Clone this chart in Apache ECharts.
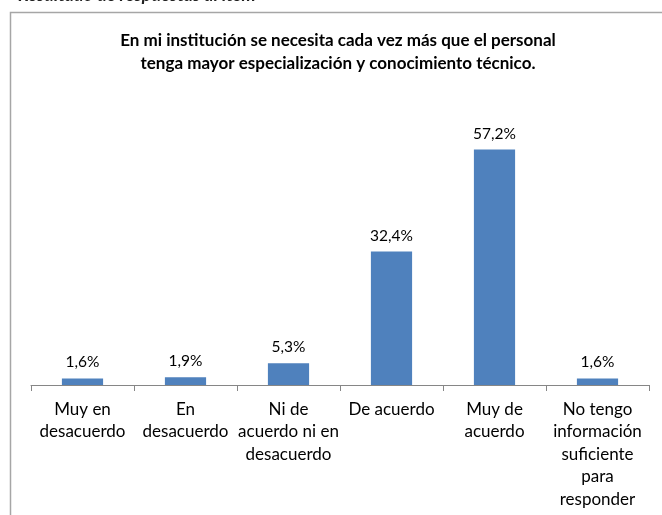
<!DOCTYPE html>
<html>
<head>
<meta charset="utf-8">
<script src="https://cdn.jsdelivr.net/npm/echarts@6/dist/echarts.min.js"></script>
<style>
html, body { margin: 0; padding: 0; background: #fff; }
#chart { width: 662px; height: 515px; }
</style>
</head>
<body>
<div id="chart"></div>
<script>
var categories = [
    'Muy en\ndesacuerdo',
    'En\ndesacuerdo',
    'Ni de\nacuerdo ni en\ndesacuerdo',
    'De acuerdo',
    'Muy de\nacuerdo',
    'No tengo\ninformación\nsuficiente\npara\nresponder'
];
var values = [1.6, 1.9, 5.3, 32.4, 57.2, 1.6];
var titleText = 'En mi institución se necesita cada vez más que el personal\ntenga mayor especialización y conocimiento técnico.';

var chart = echarts.init(document.getElementById('chart'));
var option = {
    animation: false,
    backgroundColor: '#fff',
    textStyle: {fontFamily: 'Lato, "Noto Sans", sans-serif'},
    title: {
        text: titleText,
        left: 333,
        top: 24,
        textAlign: 'center',
        textStyle: {
            fontFamily: 'Lato, "Noto Sans", sans-serif',
            fontSize: 17,
            fontWeight: 'bold',
            color: '#000',
            lineHeight: 23
        }
    },
    graphic: [
        {
            type: 'rect',
            shape: {x: 10.5, y: 12.5, width: 700, height: 600},
            style: {fill: 'none', stroke: '#a6a6a6', lineWidth: 1.5},
            silent: true
        },
        {
            type: 'text',
            left: 18,
            top: -14,
            style: {
                text: 'Resultado de respuestas al ítem',
                font: 'italic bold 18px Lato, sans-serif',
                fill: '#222'
            }
        }
    ],
    grid: {left: 31, right: 13, top: 138, bottom: 130},
    xAxis: {
        type: 'category',
        data: categories,
        axisLine: {lineStyle: {color: '#868686', width: 1}},
        axisTick: {show: true, length: 6, lineStyle: {color: '#868686'}},
        axisLabel: {
            interval: 0,
            margin: 13,
            fontSize: 17,
            lineHeight: 22.5,
            color: '#000',
            fontFamily: 'Lato, "Noto Sans", sans-serif'
        }
    },
    yAxis: {
        type: 'value',
        min: 0,
        max: 60,
        show: false,
        splitLine: {show: false}
    },
    series: [{
        type: 'bar',
        data: values,
        barWidth: '40%',
        itemStyle: {color: '#4f81bd'},
        label: {
            show: true,
            position: 'top',
            distance: 8,
            fontSize: 15.5,
            color: '#000',
            fontFamily: 'Lato, "Noto Sans", sans-serif',
            formatter: function (p) {
                return p.value.toFixed(1).replace('.', ',') + '%';
            }
        }
    }]
};
chart.setOption(option);
</script>
</body>
</html>
